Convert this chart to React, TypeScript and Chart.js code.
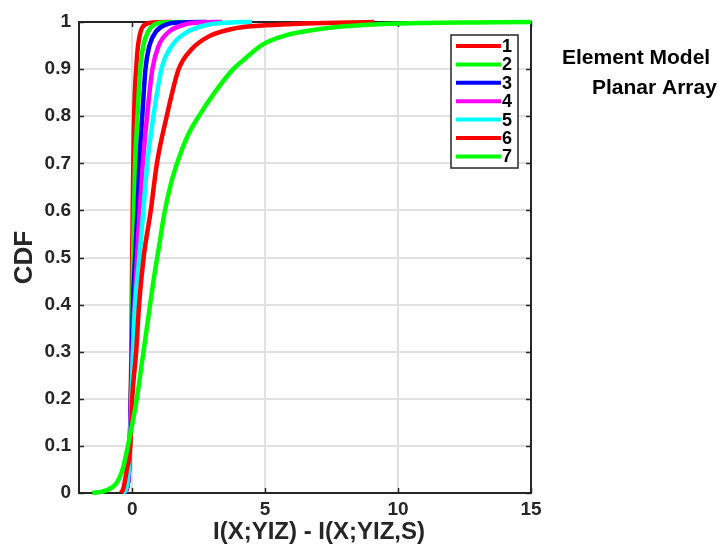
import React, { useEffect, useRef } from "react";
import { Chart, registerables } from "chart.js";

Chart.register(...registerables);

const FONT = '"Liberation Sans", Arial, Helvetica, sans-serif';
const INK = "#262626";

// Series names and colours
const seriesLabels = ["1", "2", "3", "4", "5", "6", "7"];
const seriesColors = ["#ff0000", "#00ff00", "#0000ff", "#ff00ff", "#00ffff", "#ff0000", "#00ff00"];

// Empirical CDF samples for each series: x = I(X;Y|Z) - I(X;Y|Z,S), y = CDF
const cdf1X = [-0.3, -0.2, -0.12, -0.07, -0.03, 0, 0.03, 0.06, 0.1, 0.15, 0.22, 0.32, 0.5, 0.8, 1.5];
const cdf1Y = [0, 0.01, 0.05, 0.15, 0.3, 0.5, 0.65, 0.77, 0.85, 0.9, 0.95, 0.98, 0.995, 0.999, 1];

const cdf2X = [-0.3, -0.2, -0.12, -0.06, -0.02, 0.02, 0.07, 0.11, 0.2, 0.3, 0.42, 0.6, 0.85, 1.2, 2.0];
const cdf2Y = [0, 0.01, 0.05, 0.15, 0.3, 0.45, 0.6, 0.7, 0.8, 0.9, 0.95, 0.98, 0.995, 0.999, 1];

const cdf3X = [-0.3, -0.2, -0.12, -0.05, 0.03, 0.11, 0.2, 0.27, 0.38, 0.5, 0.65, 0.9, 1.3, 1.8, 2.8];
const cdf3Y = [0, 0.01, 0.05, 0.2, 0.4, 0.5, 0.6, 0.7, 0.8, 0.9, 0.95, 0.98, 0.995, 0.999, 1];

const cdf4X = [-0.32, -0.2, -0.12, -0.05, 0.05, 0.18, 0.28, 0.4, 0.56, 0.76, 1.0, 1.4, 2.0, 2.6, 3.4];
const cdf4Y = [0, 0.01, 0.05, 0.18, 0.35, 0.5, 0.6, 0.7, 0.8, 0.9, 0.95, 0.98, 0.995, 0.999, 1];

const cdf5X = [-0.35, -0.22, -0.13, -0.05, 0.03, 0.11, 0.27, 0.42, 0.57, 0.8, 1.1, 1.5, 2.1, 2.9, 3.7, 4.5];
const cdf5Y = [0, 0.01, 0.05, 0.15, 0.3, 0.4, 0.5, 0.6, 0.7, 0.8, 0.9, 0.95, 0.98, 0.995, 0.999, 1];

const cdf6X = [-0.42, -0.33, -0.2, -0.07, 0, 0.15, 0.26, 0.43, 0.7, 0.93, 1.3, 1.75, 2.2, 2.9, 3.9, 5.0, 6.5, 9.1];
const cdf6Y = [0, 0.01, 0.05, 0.1, 0.2, 0.3, 0.4, 0.5, 0.6, 0.7, 0.8, 0.9, 0.94, 0.97, 0.987, 0.993, 0.997, 1];

const cdf7X = [-1.5, -1.0, -0.6, -0.36, -0.16, 0.05, 0.2, 0.4, 0.6, 0.8, 1.0, 1.2, 1.45, 1.75, 2.1, 2.45, 3.1, 3.8, 4.2, 4.9, 5.8, 6.8, 8.0, 9.5, 11, 13, 15];
const cdf7Y = [0, 0.005, 0.02, 0.05, 0.1, 0.16, 0.21, 0.29, 0.37, 0.45, 0.52, 0.59, 0.655, 0.71, 0.76, 0.795, 0.85, 0.9, 0.92, 0.952, 0.972, 0.983, 0.991, 0.996, 0.998, 0.999, 1];

const seriesX = [cdf1X, cdf2X, cdf3X, cdf4X, cdf5X, cdf6X, cdf7X];
const seriesY = [cdf1Y, cdf2Y, cdf3Y, cdf4Y, cdf5Y, cdf6Y, cdf7Y];

// Axes
const xMin = -2;
const xMax = 15;
const xTickValues = [0, 5, 10, 15];
const yMin = 0;
const yMax = 1;
const yTickStep = 0.1;

const xAxisTitle = "I(X;YIZ) - I(X;YIZ,S)";
const yAxisTitle = "CDF";
const noteLines = ["Element Model", "Planar Array"];

// Axes box, inward tick marks, legend box and captions
const framePlugin = {
  id: "frame",
  beforeDatasetsDraw(chart: any) {
    const { ctx, chartArea } = chart;
    const { left, right, top, bottom } = chartArea;
    const xs = chart.scales.x;
    const ys = chart.scales.y;
    ctx.save();
    ctx.strokeStyle = INK;
    ctx.lineWidth = 2;
    ctx.strokeRect(left, top, right - left, bottom - top);
    ctx.lineWidth = 1.5;
    const tl = 5;
    ctx.beginPath();
    ys.ticks.forEach((t: any) => {
      const y = Math.round(ys.getPixelForValue(t.value)) + 0.5;
      ctx.moveTo(left, y);
      ctx.lineTo(left + tl, y);
      ctx.moveTo(right, y);
      ctx.lineTo(right - tl, y);
    });
    xs.ticks.forEach((t: any) => {
      const x = Math.round(xs.getPixelForValue(t.value)) + 0.5;
      ctx.moveTo(x, bottom);
      ctx.lineTo(x, bottom - tl);
      ctx.moveTo(x, top);
      ctx.lineTo(x, top + tl);
    });
    ctx.stroke();
    ctx.restore();
  },
  afterDraw(chart: any) {
    const { ctx, chartArea } = chart;
    const { right, top, bottom } = chartArea;
    ctx.save();

    // legend
    const bx = right - 80;
    const by = top + 13;
    const bw = 67;
    const bh = 133;
    ctx.fillStyle = "#ffffff";
    ctx.fillRect(bx, by, bw, bh);
    ctx.strokeStyle = INK;
    ctx.lineWidth = 1.5;
    ctx.strokeRect(bx, by, bw, bh);
    ctx.font = `bold 18px ${FONT}`;
    ctx.textBaseline = "middle";
    ctx.textAlign = "left";
    seriesLabels.forEach((lab, i) => {
      const y = by + 11 + i * 18.4;
      ctx.strokeStyle = seriesColors[i];
      ctx.lineWidth = 4;
      ctx.beginPath();
      ctx.moveTo(bx + 5, y);
      ctx.lineTo(bx + 50, y);
      ctx.stroke();
      ctx.fillStyle = "#000000";
      ctx.fillText(lab, bx + 51, y + 1);
    });

    // axis titles
    ctx.fillStyle = INK;
    ctx.font = `bold 24px ${FONT}`;
    ctx.textAlign = "center";
    ctx.textBaseline = "alphabetic";
    ctx.fillText(xAxisTitle, 319, 539);

    ctx.save();
    ctx.translate(32, (top + bottom) / 2);
    ctx.rotate(-Math.PI / 2);
    ctx.font = `bold 26px ${FONT}`;
    ctx.fillText(yAxisTitle, 0, 0);
    ctx.restore();

    // captions on the right
    ctx.fillStyle = "#000000";
    ctx.font = `bold 21px ${FONT}`;
    ctx.textAlign = "left";
    ctx.fillText(noteLines[0], 562, 64);
    ctx.fillText(noteLines[1], 592, 94);

    ctx.restore();
  },
};

export default function App() {
  const canvasRef = useRef<HTMLCanvasElement | null>(null);

  useEffect(() => {
    const canvas = canvasRef.current;
    if (!canvas) return;

    const datasets = seriesX.map((xs, i) => ({
      label: seriesLabels[i],
      data: xs.map((x, j) => ({ x, y: seriesY[i][j] })),
      borderColor: seriesColors[i],
      backgroundColor: seriesColors[i],
      borderWidth: 4.5,
      pointRadius: 0,
      showLine: true,
      fill: false,
      cubicInterpolationMode: "monotone" as const,
      borderJoinStyle: "round" as const,
      clip: false as const,
      order: seriesX.length - 1 - i,
    }));

    const tickFont = { family: FONT, size: 19, weight: "bold" as const };

    const chart = new Chart(canvas, {
      type: "scatter",
      data: { datasets },
      options: {
        responsive: false,
        animation: false,
        devicePixelRatio: 1,
        layout: { padding: { left: 0, right: 188, top: 22, bottom: 0 } },
        plugins: {
          legend: { display: false },
          tooltip: { enabled: false },
        },
        scales: {
          x: {
            type: "linear",
            min: xMin,
            max: xMax,
            afterBuildTicks: (scale: any) => {
              scale.ticks = xTickValues.map((v) => ({ value: v }));
            },
            afterFit: (scale: any) => {
              scale.height = 54;
            },
            grid: { color: "#e1e1e1", lineWidth: 2, drawTicks: false },
            border: { display: false },
            ticks: {
              padding: 5,
              color: INK,
              font: tickFont,
              maxRotation: 0,
              autoSkip: false,
              callback: (v: any) => String(v),
            },
          },
          y: {
            type: "linear",
            min: yMin,
            max: yMax,
            afterFit: (scale: any) => {
              scale.width = 79;
            },
            grid: { color: "#e1e1e1", lineWidth: 2, drawTicks: false },
            border: { display: false },
            ticks: {
              stepSize: yTickStep,
              padding: 8,
              color: INK,
              font: tickFont,
              autoSkip: false,
              callback: (v: any) => String(Math.round(Number(v) * 10) / 10),
            },
          },
        },
      },
      plugins: [framePlugin],
    });

    return () => chart.destroy();
  }, []);

  return (
    <div style={{ position: "fixed", left: 0, top: 0, width: 719, height: 547, background: "#ffffff" }}>
      <canvas ref={canvasRef} width={719} height={547} style={{ display: "block" }} />
    </div>
  );
}
